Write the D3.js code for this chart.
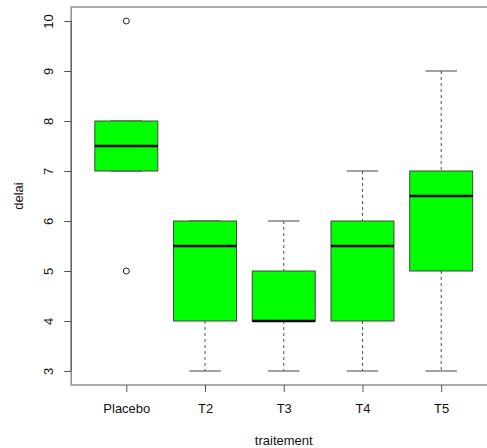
<!DOCTYPE html>
<html>
<head>
<meta charset="utf-8">
<script src="https://cdn.jsdelivr.net/npm/d3@7"></script>
<style>
  html, body { margin: 0; padding: 0; background: #fff; }
  svg { display: block; font-family: "Liberation Sans", Arial, sans-serif; }
</style>
</head>
<body>
<svg id="chart" width="487" height="448"></svg>
<script>
// Box statistics per treatment group
const categories = ["Placebo", "T2", "T3", "T4", "T5"];
const lowerWhisker = [7, 3, 3, 3, 3];
const q1 = [7, 4, 4, 4, 5];
const medians = [7.5, 5.5, 4, 5.5, 6.5];
const q3 = [8, 6, 5, 6, 7];
const upperWhisker = [8, 6, 6, 7, 9];
const outliers = [[5, 10], [], [], [], []];
const yTicks = [3, 4, 5, 6, 7, 8, 9, 10];

const boxes = categories.map((c, i) => ({
  cat: c, pos: i + 1,
  lo: lowerWhisker[i], q1: q1[i], med: medians[i], q3: q3[i], hi: upperWhisker[i],
  out: outliers[i]
}));

const svg = d3.select("#chart");

// Plot region: positions 1..n padded by half a slot plus 4% of the range
const x = d3.scaleLinear().domain([0.3, 5.7]).range([71.2, 496.3]);
const y = d3.scaleLinear().domain([2.72, 10.28]).range([385, 7]);
const unit = x(2) - x(1);
const boxW = 0.8 * unit;
const capW = 0.4 * unit;

const axisColor = "#555";
const fontSize = "13px";

// Frame
svg.append("rect")
  .attr("x", x(0.3)).attr("y", y(10.28))
  .attr("width", x(5.7) - x(0.3)).attr("height", y(2.72) - y(10.28))
  .attr("fill", "none").attr("stroke", "#888").attr("stroke-width", 1.4);

const g = svg.append("g");

// Whiskers (dashed) and caps
const grp = g.selectAll("g.box").data(boxes).join("g").attr("class", "box");

grp.append("line")
  .attr("x1", d => x(d.pos)).attr("x2", d => x(d.pos))
  .attr("y1", d => y(d.hi)).attr("y2", d => y(d.q3))
  .attr("stroke", axisColor).attr("stroke-dasharray", "3,3");
grp.append("line")
  .attr("x1", d => x(d.pos)).attr("x2", d => x(d.pos))
  .attr("y1", d => y(d.q1)).attr("y2", d => y(d.lo))
  .attr("stroke", axisColor).attr("stroke-dasharray", "3,3");
grp.append("line")
  .attr("x1", d => x(d.pos) - capW / 2).attr("x2", d => x(d.pos) + capW / 2)
  .attr("y1", d => y(d.hi)).attr("y2", d => y(d.hi))
  .attr("stroke", "#444");
grp.append("line")
  .attr("x1", d => x(d.pos) - capW / 2).attr("x2", d => x(d.pos) + capW / 2)
  .attr("y1", d => y(d.lo)).attr("y2", d => y(d.lo))
  .attr("stroke", "#444");

// Boxes
grp.append("rect")
  .attr("x", d => x(d.pos) - boxW / 2)
  .attr("y", d => y(d.q3))
  .attr("width", boxW)
  .attr("height", d => y(d.q1) - y(d.q3))
  .attr("fill", "#00ff00").attr("stroke", "#444").attr("stroke-width", 1);

// Medians
grp.append("line")
  .attr("x1", d => x(d.pos) - boxW / 2).attr("x2", d => x(d.pos) + boxW / 2)
  .attr("y1", d => y(d.med)).attr("y2", d => y(d.med))
  .attr("stroke", "#000").attr("stroke-width", 2.4);

// Outliers
grp.selectAll("circle").data(d => d.out.map(v => ({ pos: d.pos, v })))
  .join("circle")
  .attr("cx", d => x(d.pos)).attr("cy", d => y(d.v)).attr("r", 3)
  .attr("fill", "none").attr("stroke", "#222").attr("stroke-width", 1);

// Left axis with rotated labels
const yAxis = svg.append("g")
  .attr("transform", `translate(${x(0.3)},0)`)
  .call(d3.axisLeft(y).tickValues(yTicks).tickSize(7).tickSizeOuter(0).tickFormat(d3.format("d")));
yAxis.select(".domain").remove();
yAxis.append("line")
  .attr("x1", 0).attr("x2", 0).attr("y1", y(3)).attr("y2", y(10))
  .attr("stroke", axisColor);
yAxis.selectAll(".tick line").attr("stroke", axisColor);
yAxis.selectAll(".tick text")
  .attr("transform", "rotate(-90)")
  .attr("x", 0).attr("y", -18).attr("dy", 0)
  .attr("text-anchor", "middle")
  .attr("fill", "#111")
  .style("font-size", fontSize).style("font-family", "'Liberation Sans', Arial, sans-serif");

// Bottom axis with group names
const xAxis = svg.append("g")
  .attr("transform", `translate(0,${y(2.72)})`)
  .call(d3.axisBottom(x).tickValues(boxes.map(d => d.pos)).tickSize(7).tickSizeOuter(0)
    .tickFormat((d, i) => categories[i]));
xAxis.select(".domain").remove();
xAxis.selectAll(".tick line").attr("stroke", axisColor);
xAxis.selectAll(".tick text")
  .attr("y", 28).attr("dy", 0)
  .attr("fill", "#111")
  .style("font-size", fontSize).style("font-family", "'Liberation Sans', Arial, sans-serif");

// Axis titles
svg.append("text")
  .attr("x", (x(0.3) + x(5.7)) / 2).attr("y", 445)
  .attr("text-anchor", "middle").attr("fill", "#111")
  .style("font-size", fontSize)
  .text("traitement");

svg.append("text")
  .attr("transform", `translate(23,${(y(2.72) + y(10.28)) / 2}) rotate(-90)`)
  .attr("text-anchor", "middle").attr("fill", "#111")
  .style("font-size", fontSize)
  .text("delai");
</script>
</body>
</html>
